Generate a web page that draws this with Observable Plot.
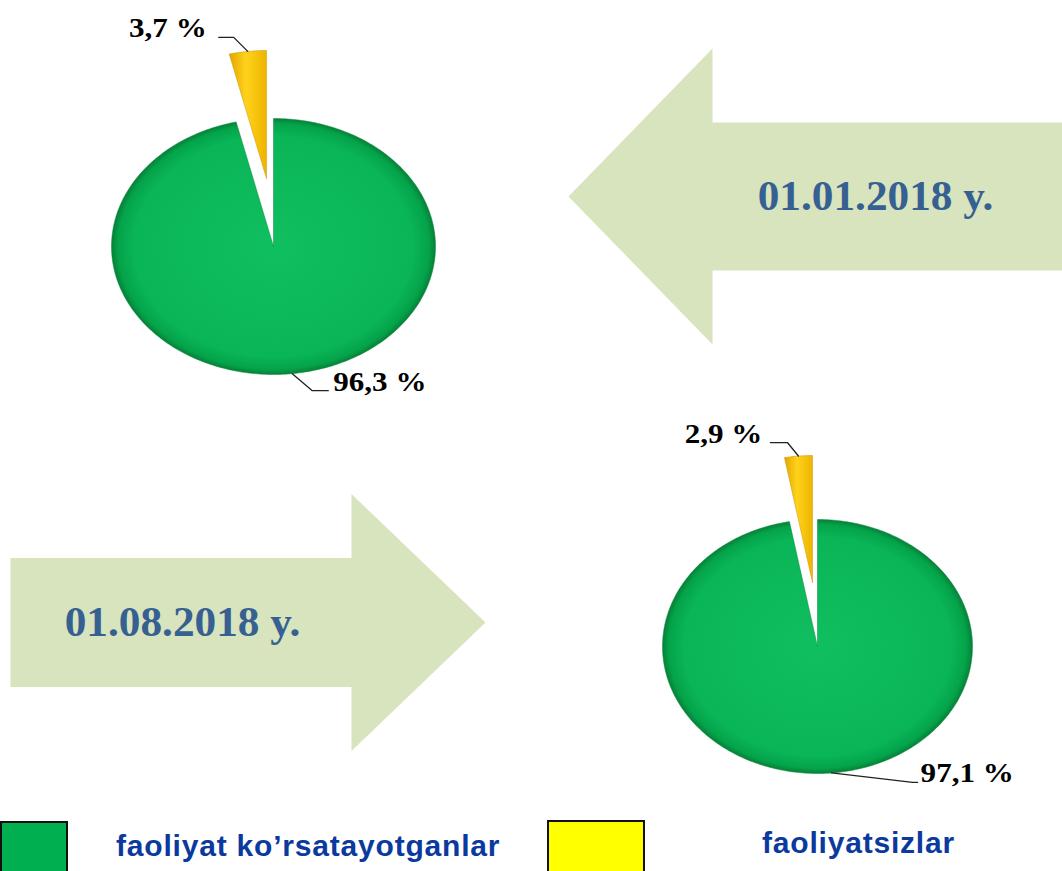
<!DOCTYPE html>
<html>
<head>
<meta charset="utf-8">
<script src="https://cdn.jsdelivr.net/npm/d3@7"></script>
<script src="https://cdn.jsdelivr.net/npm/@observablehq/plot@0.6"></script>
<style>
  html, body { margin: 0; padding: 0; background: #fff; overflow: hidden; }
  #legend { position: relative; width: 1062px; height: 56px; font-family: "Liberation Sans", Arial, sans-serif; }
  #legend .sw { position: absolute; box-sizing: border-box; height: 60px; }
  #legend .lt { position: absolute; font-weight: bold; font-size: 30px; line-height: 30px; letter-spacing: 0.8px; color: #0b3a9e; white-space: nowrap; }
</style>
</head>
<body>
<div id="chart"></div>
<div id="legend"></div>
<script>
// ---------- data ----------
const dates = ["01.01.2018 y.", "01.08.2018 y."];
const categories = ["faoliyat ko’rsatayotganlar", "faoliyatsizlar"];
const activeShare = [96.3, 97.1];     // faoliyat ko’rsatayotganlar, %
const inactiveShare = [3.7, 2.9];     // faoliyatsizlar, %
const categoryColors = ["#00b050", "#ffff00"];

// ---------- layout (positions / styles) ----------
const W = 1062, H = 815;
const pieLayout = [
  { cx: 273, cy: 246, rx: 162, ry: 128, explode: [-7, -68],
    leaders: [ [[20, 17], [16, 0], 5], [[-14, -14], [-15, 0], -12] ] },
  { cx: 817, cy: 646, rx: 155, ry: 127, explode: [-5, -64],
    leaders: [ [[81, 9.5], [5, 0], 3], [[-11, -13.5], [-17, 0], -8] ] }
];
const arrowLayout = [
  { tailX: 1080, headX: 712, tipX: 568, cy: 196, shaft: 74, head: 148, textX: 875 },
  { tailX: 10, headX: 351, tipX: 485, cy: 622, shaft: 64.5, head: 128.5, textX: 182 }
];
const arrowFill = "#d7e4bd";
const dateColor = "#376092";

const fmtPct = v => d3.format(".1f")(v).replace(".", ",") + " %";

// ---------- build geometry ----------
const wedges = [], leaders = [], labels = [], arrows = [], arrowTexts = [];

dates.forEach((date, p) => {
  const L = pieLayout[p];
  const arcs = d3.pie().sort(null)([activeShare[p], inactiveShare[p]]);
  arcs.forEach((a, k) => {
    const [dx, dy] = k === 1 ? L.explode : [0, 0];
    const ox = L.cx + dx, oy = L.cy + dy;
    const pt = t => [ox + L.rx * Math.sin(t), oy - L.ry * Math.cos(t)];
    const n = Math.max(6, Math.ceil((a.endAngle - a.startAngle) / (Math.PI / 180)));
    const id = `${p}-${k}`;
    wedges.push({ id, cat: k, x: ox, y: oy });
    for (let i = 0; i <= n; i++) {
      const [x, y] = pt(a.startAngle + (a.endAngle - a.startAngle) * i / n);
      wedges.push({ id, cat: k, x, y });
    }
    wedges.push({ id, cat: k, x: ox, y: oy });
    const mid = (a.startAngle + a.endAngle) / 2;
    const p0 = pt(mid);
    const [o1, o2, tOff] = L.leaders[k];
    const p1 = [p0[0] + o1[0], p0[1] + o1[1]];
    const p2 = [p1[0] + o2[0], p1[1] + o2[1]];
    [p0, p1, p2].forEach(q => leaders.push({ id, x: q[0], y: q[1] }));
    labels.push({ x: p2[0] + tOff, y: p2[1], text: fmtPct(a.data), anchor: tOff > 0 ? "start" : "end" });
  });

  const A = arrowLayout[p];
  const poly = [
    [A.tailX, A.cy - A.shaft], [A.headX, A.cy - A.shaft], [A.headX, A.cy - A.head],
    [A.tipX, A.cy], [A.headX, A.cy + A.head], [A.headX, A.cy + A.shaft],
    [A.tailX, A.cy + A.shaft], [A.tailX, A.cy - A.shaft]
  ];
  poly.forEach(([x, y]) => arrows.push({ id: p, x, y }));
  arrowTexts.push({ x: A.textX, y: A.cy, text: date });
});

// ---------- plot ----------
const serif = "'Liberation Serif', 'Times New Roman', serif";
const svg = Plot.plot({
  width: W, height: H,
  margin: 0,
  x: { domain: [0, W], range: [0, W], axis: null },
  y: { domain: [0, H], range: [0, H], axis: null },
  style: { background: "#fff", overflow: "visible" },
  marks: [
    Plot.line(arrows, { x: "x", y: "y", z: "id", fill: arrowFill, stroke: "none", curve: "linear" }),
    Plot.line(wedges.filter(d => d.cat === 0), { x: "x", y: "y", z: "id", fill: "url(#gGreen)", stroke: "#068a3c", strokeWidth: 1, strokeOpacity: 0.5, curve: "linear" }),
    Plot.line(wedges.filter(d => d.cat === 1), { x: "x", y: "y", z: "id", fill: "url(#gYellow)", stroke: "#c99400", strokeWidth: 0.8, strokeOpacity: 0.6, curve: "linear" }),
    Plot.line(leaders, { x: "x", y: "y", z: "id", stroke: "#222", strokeWidth: 1.3, curve: "linear" }),
    Plot.text(labels.filter(d => d.anchor === "start"), { x: "x", y: "y", text: "text", textAnchor: "start", lineAnchor: "bottom", fontFamily: serif, fontWeight: "bold", fontSize: 27, fill: "#000" }),
    Plot.text(labels.filter(d => d.anchor === "end"), { x: "x", y: "y", text: "text", textAnchor: "end", lineAnchor: "bottom", fontFamily: serif, fontWeight: "bold", fontSize: 27, fill: "#000" }),
    Plot.text(arrowTexts, { x: "x", y: "y", text: "text", textAnchor: "middle", lineAnchor: "middle", fontFamily: serif, fontWeight: "bold", fontSize: 42, fill: dateColor })
  ]
});

d3.select(svg).insert("defs", ":first-child").html(`
  <radialGradient id="gGreen" cx="50%" cy="50%" r="50%">
    <stop offset="0%" stop-color="#10bf5f"/>
    <stop offset="86%" stop-color="#0ab558"/>
    <stop offset="96%" stop-color="#04a34a"/>
    <stop offset="100%" stop-color="#078038"/>
  </radialGradient>
  <linearGradient id="gYellow" x1="0" y1="0" x2="1" y2="0">
    <stop offset="0%" stop-color="#e3a600"/>
    <stop offset="45%" stop-color="#ffd21c"/>
    <stop offset="100%" stop-color="#eeb400"/>
  </linearGradient>
`);

document.getElementById("chart").append(svg);

// widen serif texts to match the reference proportions
const labelTexts = labels.map(d => d.text);
d3.select(svg).selectAll("text").each(function () {
  const t = this.textContent;
  const f = labelTexts.includes(t) ? 1.15 : dates.includes(t) ? 1.03 : 1;
  if (f !== 1) {
    const len = this.getComputedTextLength();
    this.setAttribute("textLength", len * f);
    this.setAttribute("lengthAdjust", "spacingAndGlyphs");
  }
});

// ---------- legend ----------
const legendLayout = [
  { swLeft: 0, swTop: 6, swWidth: 68, textLeft: 116, textTop: 15.5 },
  { swLeft: 547, swTop: 5, swWidth: 98, textLeft: 762, textTop: 12.5 }
];
const legend = d3.select("#legend");
categories.forEach((c, i) => {
  const LL = legendLayout[i];
  legend.append("div").attr("class", "sw")
    .style("left", LL.swLeft + "px").style("top", LL.swTop + "px").style("width", LL.swWidth + "px")
    .style("background", categoryColors[i]).style("border", "2px solid #111");
  legend.append("div").attr("class", "lt")
    .style("left", LL.textLeft + "px").style("top", LL.textTop + "px").text(c);
});
</script>
</body>
</html>
